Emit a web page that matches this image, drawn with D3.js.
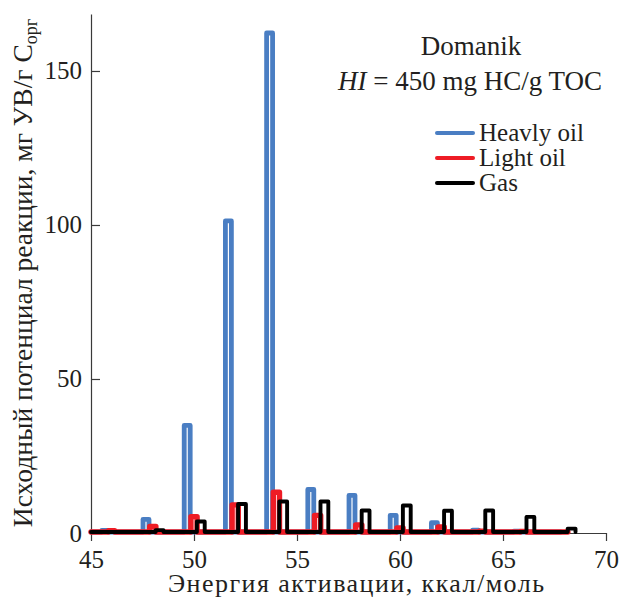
<!DOCTYPE html>
<html>
<head>
<meta charset="utf-8">
<script src="https://cdn.jsdelivr.net/npm/d3@7"></script>
<style>
  body { margin: 0; background: #fff; }
  text { font-family: "Liberation Serif", "DejaVu Serif", "Noto Serif", serif; fill: #231f20; }
</style>
</head>
<body>
<svg id="chart"></svg>
<script>
// activation energies (kcal/mol) of each group of pulses
var energies = [46, 48, 50, 52, 54, 56, 58, 60, 62, 64, 66, 68];
// initial reaction potential, mg HC / g TOC
var heavyOil = [0.5, 4.1, 34.6, 101, 162, 13.8, 11.9, 5.4, 3.0, 0.6, 0.3, 0];
var lightOil = [0.4, 1.8, 5.0, 8.8, 12.9, 5.4, 2.3, 1.3, 1.6, 0.3, 0.2, 0];
var gas      = [0, 0.6, 3.4, 9.1, 9.9, 9.9, 7.0, 8.6, 6.9, 7.0, 4.9, 1.1];
var seriesNames = ["Heavly oil", "Light oil", "Gas"];
var xTicks = [45, 50, 55, 60, 65, 70];
var yTicks = [0, 50, 100, 150];

var screen = {width: 627, height: 599};
var margins = {left: 91, right: 21, top: 14, bottom: 66};
var serif = "'Liberation Serif', 'DejaVu Serif', 'Noto Serif', serif";

var svg = d3.select("#chart")
    .attr("width", screen.width)
    .attr("height", screen.height);

var xScale = d3.scaleLinear()
    .domain([45, 70])
    .range([margins.left, screen.width - margins.right]);

var yScale = d3.scaleLinear()
    .domain([0, 168.5])
    .range([screen.height - margins.bottom, margins.top]);

// series: shift of each pulse from the energy value, colour, width
var series = [
    {name: seriesNames[0], values: heavyOil, shift: -0.33, half: 0.145, color: "#4a7ec3", width: 4.8},
    {name: seriesNames[1], values: lightOil, shift: 0, half: 0.15, color: "#ee1c25", width: 5.4},
    {name: seriesNames[2], values: gas, shift: 0.33, half: 0.19, color: "#000000", width: 3.9}
];

var pulsePoints = function(s)
{
    var pts = [{e: 45, v: 0}];
    energies.forEach(function(e, i)
    {
        var c = e + s.shift;
        pts.push({e: c - s.half, v: 0});
        pts.push({e: c - s.half, v: s.values[i]});
        pts.push({e: c + s.half, v: s.values[i]});
        pts.push({e: c + s.half, v: 0});
    });
    return pts;
}

var line = d3.line()
    .x(function(d) { return xScale(d.e); })
    .y(function(d) { return yScale(d.v) - 1; });

// axes
var xAxis = d3.axisBottom(xScale)
    .tickValues(xTicks)
    .tickSize(8)
    .tickSizeOuter(0)
    .tickPadding(9);

var gx = svg.append("g")
    .attr("transform", "translate(0," + yScale(0) + ")")
    .call(xAxis);

var yAxis = d3.axisLeft(yScale)
    .tickValues(yTicks)
    .tickSize(-9)
    .tickSizeOuter(0)
    .tickPadding(9);

var gy = svg.append("g")
    .attr("transform", "translate(" + xScale(45) + ",0)")
    .call(yAxis);

svg.selectAll(".domain, .tick line")
    .attr("stroke", "#3a3a3a")
    .attr("stroke-width", 1.2);
svg.selectAll("g").attr("font-family", null);
svg.selectAll(".tick text")
    .style("font-family", serif)
    .style("font-size", "25px")
    .attr("fill", "#231f20");

// lines
series.forEach(function(s)
{
    svg.append("path")
        .datum(pulsePoints(s))
        .attr("fill", "none")
        .attr("stroke", s.color)
        .attr("stroke-width", s.width)
        .attr("stroke-linejoin", "round")
        .attr("stroke-linecap", "round")
        .attr("d", line);
});

// titles
svg.append("text")
    .text("Domanik")
    .attr("x", 471)
    .attr("y", 55)
    .attr("text-anchor", "middle")
    .style("font-size", "27px");

var hi = svg.append("text")
    .attr("x", 470)
    .attr("y", 90)
    .attr("text-anchor", "middle")
    .style("font-size", "27px");
hi.append("tspan").text("HI").style("font-style", "italic");
hi.append("tspan").text(" = 450 mg HC/g TOC");

// legend
var legend = svg.append("g")
    .attr("transform", "translate(437,133)");

var entries = legend.selectAll("g")
    .data(series)
    .enter()
    .append("g")
    .attr("transform", function(d, i) { return "translate(0," + (i * 25) + ")"; });

entries.append("line")
    .attr("x1", 0)
    .attr("x2", 36)
    .attr("stroke", function(d) { return d.color; })
    .attr("stroke-width", 4)
    .attr("stroke-linecap", "round");

entries.append("text")
    .text(function(d) { return d.name; })
    .attr("x", 42)
    .attr("y", 8)
    .style("font-size", "25px");

// axis labels
svg.append("text")
    .text("Энергия активации, ккал/моль")
    .attr("x", 356)
    .attr("y", 592)
    .attr("text-anchor", "middle")
    .attr("textLength", 376)
    .attr("lengthAdjust", "spacing")
    .style("font-size", "26px");

var ylab = svg.append("text")
    .attr("transform", "translate(32,273) rotate(-90)")
    .attr("text-anchor", "middle")
    .style("font-size", "27.5px");
ylab.append("tspan").text("Исходный потенциал реакции, мг УВ/г C");
ylab.append("tspan").text("орг")
    .attr("dy", 5)
    .style("font-size", "18px");
</script>
</body>
</html>
